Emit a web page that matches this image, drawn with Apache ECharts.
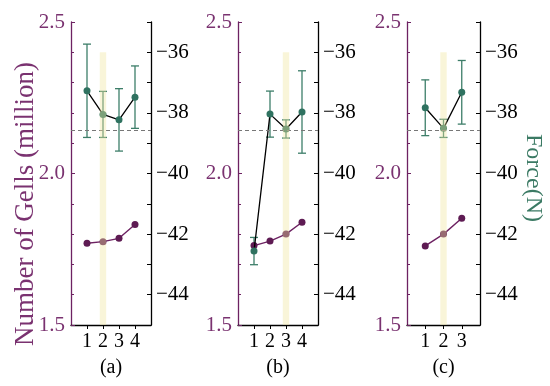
<!DOCTYPE html>
<html><head><meta charset="utf-8">
<script src="https://cdn.jsdelivr.net/npm/echarts@6/dist/echarts.min.js"></script>
<style>html,body{margin:0;padding:0;background:#fff}#c{width:550px;height:386px}</style>
</head><body><div id="c"></div>
<script>
// ---- data ----
const panelNames = ['(a)', '(b)', '(c)'];
const xA = [1, 2, 3, 4];
const xB = [1, 2, 3, 4];
const xC = [1, 2, 3];
const gellA = [1.770, 1.775, 1.786, 1.832];
const gellB = [1.762, 1.777, 1.800, 1.839];
const gellC = [1.761, 1.800, 1.852];
const forceA = [-37.27, -38.05, -38.23, -37.48];
const forceB = [-42.56, -38.04, -38.53, -37.97];
const forceC = [-37.83, -38.51, -37.32];
const errA = [1.54, 0.76, 1.03, 1.03];
const errB = [0.45, 0.76, 0.30, 1.36];
const errC = [0.92, 0.30, 1.05];
const highlightX = [2, 3, 2];
const refForce = -38.57;
const leftTicks = [1.5, 2.0, 2.5];
const rightTicks = [-44, -42, -40, -38, -36];
const leftTitle = 'Number of Gells (million)';
const rightTitle = 'Force(N)';

const PURPLE = '#6d2262', PURPLE_TXT = '#7a3270', PDOT = '#5e1b53';
const GREEN = '#2f7260', GREEN_ERR = '#3d7e69', GREEN_TXT = '#3b7a64';
const FONT = 'Liberation Serif';

const panels = [
  {x: xA, g: gellA, f: forceA, e: errA, left: 71, width: 80, xmax: 5},
  {x: xB, g: gellB, f: forceB, e: errB, left: 238, width: 80, xmax: 5},
  {x: xC, g: gellC, f: forceC, e: errC, left: 407, width: 73, xmax: 4}
];

const grid = [], xAxis = [], yAxis = [], series = [];
panels.forEach((p, i) => {
  grid.push({left: p.left, top: 22, width: p.width, height: 303, outerBoundsMode: 'none', containLabel: false});
  xAxis.push({
    type: 'value', gridIndex: i, min: 0, max: p.xmax, interval: 1,
    name: panelNames[i], nameLocation: 'middle', nameGap: 33,
    nameTextStyle: {fontFamily: FONT, fontSize: 20, color: '#000'},
    axisLine: {lineStyle: {color: '#000', width: 1.3}},
    axisTick: {inside: false, length: 4, lineStyle: {color: '#000'}, customValues: p.x},
    axisLabel: {fontFamily: FONT, fontSize: 20, color: '#000', margin: 7, customValues: p.x},
    splitLine: {show: false}
  });
  yAxis.push({
    type: 'value', gridIndex: i, position: 'left', min: 1.5, max: 2.5, interval: 0.5,
    axisLine: {show: true, lineStyle: {color: PURPLE, width: 1.3}},
    axisTick: {inside: true, length: 4, lineStyle: {color: PURPLE}},
    minorTick: {show: true, splitNumber: 5, length: 3, lineStyle: {color: PURPLE}},
    axisLabel: {fontFamily: FONT, fontSize: 21, color: PURPLE_TXT, margin: 6,
      customValues: leftTicks, formatter: v => v.toFixed(1)},
    splitLine: {show: false}
  });
  yAxis.push({
    type: 'value', gridIndex: i, position: 'right', min: -45, max: -35, interval: 1,
    axisLine: {show: true, lineStyle: {color: '#000', width: 1.3}},
    axisTick: {inside: true, length: 4, lineStyle: {color: '#000'}},
    axisLabel: {fontFamily: FONT, fontSize: 21, color: '#000', margin: 5,
      customValues: rightTicks, formatter: v => '\u2212' + Math.abs(v)},
    splitLine: {show: false}
  });
  const li = i * 2, ri = i * 2 + 1;
  series.push({
    type: 'line', xAxisIndex: i, yAxisIndex: li, z: 3,
    data: p.x.map((x, k) => [x, p.g[k]]),
    symbol: 'circle', symbolSize: 7,
    lineStyle: {color: PURPLE, width: 1.4}, itemStyle: {color: PDOT},
    animation: false
  });
  series.push({
    type: 'custom', xAxisIndex: i, yAxisIndex: ri, z: 2,
    data: p.x.map((x, k) => [x, p.f[k] - p.e[k], p.f[k] + p.e[k]]),
    encode: {x: 0, y: [1, 2]},
    renderItem: (params, api) => {
      const x = api.value(0);
      const a = api.coord([x, api.value(2)]), b = api.coord([x, api.value(1)]);
      const w = 4, st = {stroke: GREEN_ERR, lineWidth: 1.3};
      return {type: 'group', children: [
        {type: 'line', shape: {x1: a[0], y1: a[1], x2: b[0], y2: b[1]}, style: st},
        {type: 'line', shape: {x1: a[0] - w, y1: a[1], x2: a[0] + w, y2: a[1]}, style: st},
        {type: 'line', shape: {x1: b[0] - w, y1: b[1], x2: b[0] + w, y2: b[1]}, style: st}
      ]};
    },
    animation: false
  });
  series.push({
    type: 'line', xAxisIndex: i, yAxisIndex: ri, z: 4,
    data: p.x.map((x, k) => [x, p.f[k]]),
    symbol: 'circle', symbolSize: 7,
    lineStyle: {color: '#000', width: 1.3}, itemStyle: {color: GREEN},
    markLine: {silent: true, symbol: 'none', label: {show: false},
      lineStyle: {color: '#777', type: [4, 3], width: 1},
      data: [{yAxis: refForce}]},
    animation: false
  });
  series.push({
    type: 'custom', xAxisIndex: i, yAxisIndex: ri, z: 10, silent: true,
    data: [[highlightX[i]]],
    encode: {x: 0},
    renderItem: (params, api) => {
      const hx = api.value(0);
      const a = api.coord([hx, -36]), b = api.coord([hx, -45]);
      return {type: 'rect', shape: {x: a[0] - 3.2, y: a[1], width: 6.4, height: b[1] - a[1]},
        style: {fill: 'rgba(240,230,160,0.4)'}};
    },
    animation: false
  });
});

const graphic = [
  {type: 'text', x: 26, y: 204, rotation: Math.PI / 2,
    style: {text: leftTitle, font: '27px "Liberation Serif"', fill: PURPLE_TXT, align: 'center', verticalAlign: 'middle'}},
  {type: 'text', x: 533, y: 178, rotation: -Math.PI / 2,
    style: {text: rightTitle, font: '24px "Liberation Serif"', fill: GREEN_TXT, align: 'center', verticalAlign: 'middle'}}
];

const chart = echarts.init(document.getElementById('c'), null, {renderer: 'canvas'});
chart.setOption({animation: false, backgroundColor: '#fff', grid, xAxis, yAxis, series, graphic});
</script></body></html>
